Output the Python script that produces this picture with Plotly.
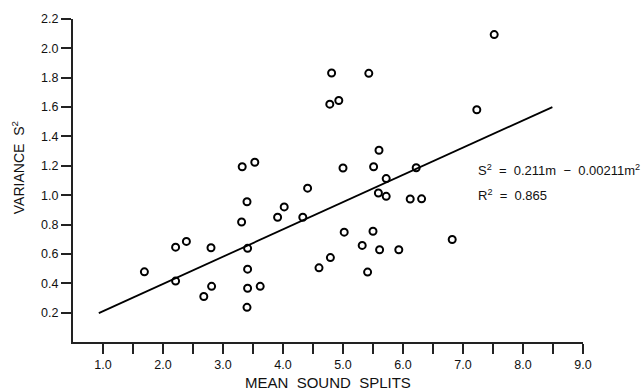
import plotly.graph_objects as go

# Data
mean_splits = [1.69, 2.21, 2.39, 2.80, 2.21, 2.68, 2.81, 3.32, 3.53, 3.31, 3.40,
               3.41, 3.41, 3.41, 3.62, 3.40, 3.91, 4.02, 4.33, 4.41, 4.60, 4.79,
               4.81, 4.78, 4.93, 5.00, 5.02, 5.32, 5.41, 5.43, 5.51, 5.50, 5.60,
               5.72, 5.59, 5.72, 5.61, 5.93, 6.12, 6.22, 6.31, 6.82, 7.23, 7.52]
variance = [0.478, 0.646, 0.685, 0.642, 0.415, 0.310, 0.379, 1.194, 1.224, 0.817, 0.955,
            0.638, 0.496, 0.366, 0.379, 0.236, 0.850, 0.920, 0.850, 1.048, 0.505, 0.575,
            1.832, 1.620, 1.645, 1.185, 0.748, 0.658, 0.476, 1.830, 1.194, 0.754, 1.306,
            1.113, 1.015, 0.992, 0.628, 0.628, 0.974, 1.187, 0.975, 0.698, 1.582, 2.094]

fit_x = [0.93, 8.49]
fit_y = [0.197, 1.60]

x_tickvals = [1.0, 2.0, 3.0, 4.0, 5.0, 6.0, 7.0, 8.0, 9.0]
x_ticktext = ["1.0", "2.0", "3.0", "4.0", "5.0", "6.0", "7.0", "8.0", "9.0"]
x_minor_ticks = [1.5, 2.5, 3.5, 4.5, 5.5, 6.5, 7.5, 8.5]
y_tickvals = [0.2, 0.4, 0.6, 0.8, 1.0, 1.2, 1.4, 1.6, 1.8, 2.0, 2.2]
y_ticktext = ["0.2", "0.4", "0.6", "0.8", "1.0", "1.2", "1.4", "1.6", "1.8", "2.0", "2.2"]

FONT = "Liberation Sans, Arial, sans-serif"

fig = go.Figure()
fig.add_trace(go.Scatter(x=fit_x, y=fit_y, mode="lines",
                         line=dict(color="black", width=1.8), showlegend=False))
fig.add_trace(go.Scatter(x=mean_splits, y=variance, mode="markers",
                         marker=dict(symbol="circle-open", size=7, color="black",
                                     line=dict(width=2, color="black")),
                         showlegend=False))

fig.update_layout(
    width=644, height=392,
    margin=dict(l=73, r=61, t=15, b=50),
    paper_bgcolor="white", plot_bgcolor="white",
    font=dict(family=FONT, color="#111111", size=12),
    xaxis=dict(range=[0.5, 9.0], tickvals=x_tickvals, ticktext=x_ticktext,
               showgrid=False, zeroline=False, showline=True, linecolor="#222222",
               linewidth=2, ticks="outside", ticklen=10, tickwidth=1.5,
               tickcolor="#222222", tickfont=dict(size=12.5),
               minor=dict(tickvals=x_minor_ticks, ticks="outside", ticklen=10,
                          tickwidth=1.5, tickcolor="#222222", showgrid=False)),
    yaxis=dict(range=[0, 2.2], tickvals=y_tickvals, ticktext=y_ticktext,
               showgrid=False, zeroline=False, showline=True, linecolor="#222222",
               linewidth=2, ticks="outside", ticklen=10, tickwidth=1.5,
               tickcolor="#222222", tickfont=dict(size=12.5)),
    annotations=[
        dict(text="MEAN  SOUND  SPLITS", xref="paper", yref="paper", x=0.5, y=-0.125,
             xanchor="center", yanchor="middle", showarrow=False,
             font=dict(size=15, family=FONT)),
        dict(text="VARIANCE  S<sup>2</sup>", xref="paper", yref="paper", x=-0.108, y=0.541,
             xanchor="center", yanchor="middle", textangle=-90, showarrow=False,
             font=dict(size=14, family=FONT)),
        dict(text="S<sup>2</sup>  =  0.211m  \u2212  0.00211m<sup>2</sup>", xref="x", yref="y",
             x=7.22, y=1.172, xanchor="left", yanchor="middle", showarrow=False,
             font=dict(size=13, family=FONT)),
        dict(text="R<sup>2</sup>  =  0.865", xref="x", yref="y",
             x=7.22, y=1.003, xanchor="left", yanchor="middle", showarrow=False,
             font=dict(size=13, family=FONT)),
    ],
)

fig.write_html("out.html", config={"displayModeBar": False},
               post_script="document.body.style.margin='0';document.body.style.padding='0';")
